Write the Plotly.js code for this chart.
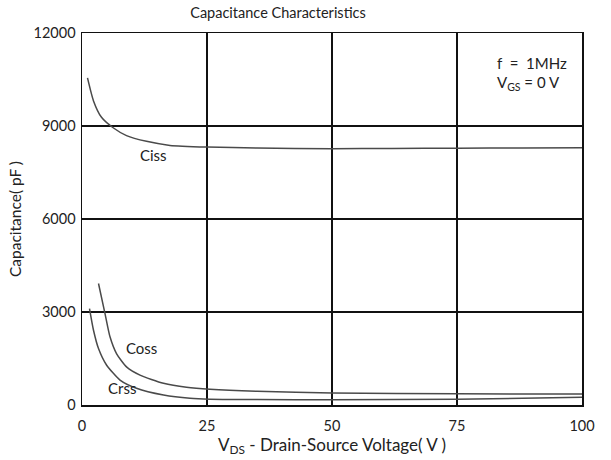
<!DOCTYPE html>
<html>
<head>
<meta charset="utf-8">
<script src="https://cdn.plot.ly/plotly-3.0.1.min.js"></script>
<style>html,body{margin:0;padding:0;background:#fff;}#chart{width:611px;height:460px;}</style>
</head>
<body>
<div id="chart"></div>
<script>
// Data
const cissV = [1.1, 2.3, 3.9, 6.3, 8.9, 12.9, 17.6, 25, 35, 50, 62, 75, 88, 100];
const cissC = [10550, 9810, 9280, 8935, 8690, 8505, 8375, 8320, 8290, 8270, 8275, 8285, 8290, 8300];

const cossV = [3.3, 4.6, 5.6, 6.9, 8.9, 11.6, 16.3, 20.9, 25.6, 35, 50, 75, 100];
const cossC = [3920, 2950, 2200, 1660, 1230, 965, 700, 570, 505, 440, 390, 360, 355];

const crssV = [1.5, 2.3, 3.3, 4.9, 7.6, 10.9, 16.3, 21.6, 25.6, 35, 50, 75, 100];
const crssC = [3110, 2410, 1820, 1290, 805, 540, 322, 215, 185, 175, 170, 185, 250];

const xTicks = [0, 25, 50, 75, 100];
const yTicks = [0, 3000, 6000, 9000, 12000];

const FONT = 'Lato, Open Sans, sans-serif';
const TXT = '#222';
const lineStyle = {color: '#4a4a4a', width: 1.5, shape: 'spline', smoothing: 0.6};

const traces = [
  {x: cissV, y: cissC, mode: 'lines', line: lineStyle, name: 'Ciss'},
  {x: cossV, y: cossC, mode: 'lines', line: lineStyle, name: 'Coss'},
  {x: crssV, y: crssC, mode: 'lines', line: lineStyle, name: 'Crss'}
];

const layout = {
  width: 611, height: 460,
  margin: {l: 82, r: 29, t: 33, b: 55},
  paper_bgcolor: '#fff', plot_bgcolor: '#fff',
  showlegend: false,
  font: {family: FONT, color: TXT, size: 14},
  title: {text: 'Capacitance Characteristics', font: {family: FONT, size: 14.5, color: TXT},
          xref: 'paper', x: 0.392, xanchor: 'center', yref: 'container', y: 1 - 13/460, yanchor: 'middle'},
  xaxis: {
    range: [0, 100], tickvals: xTicks, ticktext: xTicks.map(String),
    showgrid: true, gridcolor: '#111', gridwidth: 1.5,
    showline: true, linecolor: '#111', linewidth: 1.5, mirror: true,
    zeroline: false, ticks: '', ticklabelstandoff: 7,
    tickfont: {family: FONT, size: 14.5, color: TXT},
    title: {text: 'V<sub>DS</sub> - Drain-Source Voltage( V )', font: {family: FONT, size: 17, color: TXT}, standoff: 2}
  },
  yaxis: {
    range: [0, 12000], tickvals: yTicks, ticktext: yTicks.map(String),
    showgrid: true, gridcolor: '#111', gridwidth: 1.5,
    showline: true, linecolor: '#111', linewidth: 1.5, mirror: true,
    zeroline: false, ticks: '', ticklabelstandoff: 2,
    tickfont: {family: FONT, size: 14.5, color: TXT},
    title: {text: 'Capacitance( pF )', font: {family: FONT, size: 15.5, color: TXT}, standoff: 8}
  },
  annotations: [
    {x: 14.2, y: 8060, text: 'Ciss', showarrow: false, font: {family: FONT, size: 15, color: TXT}, xanchor: 'center', yanchor: 'middle'},
    {x: 11.8, y: 1830, text: 'Coss', showarrow: false, font: {family: FONT, size: 15, color: TXT}, xanchor: 'center', yanchor: 'middle'},
    {x: 8.0, y: 560, text: 'Crss', showarrow: false, font: {family: FONT, size: 15, color: TXT}, xanchor: 'center', yanchor: 'middle'},
    {x: 82.5, y: 11030, text: 'f  =  1MHz', showarrow: false, font: {family: FONT, size: 15, color: TXT}, xanchor: 'left', yanchor: 'middle'},
    {x: 82.5, y: 10390, text: 'V<sub>GS</sub> = 0 V', showarrow: false, font: {family: FONT, size: 15, color: TXT}, xanchor: 'left', yanchor: 'middle'}
  ]
};

Plotly.newPlot('chart', traces, layout, {displayModeBar: false, staticPlot: true});
</script>
</body>
</html>
